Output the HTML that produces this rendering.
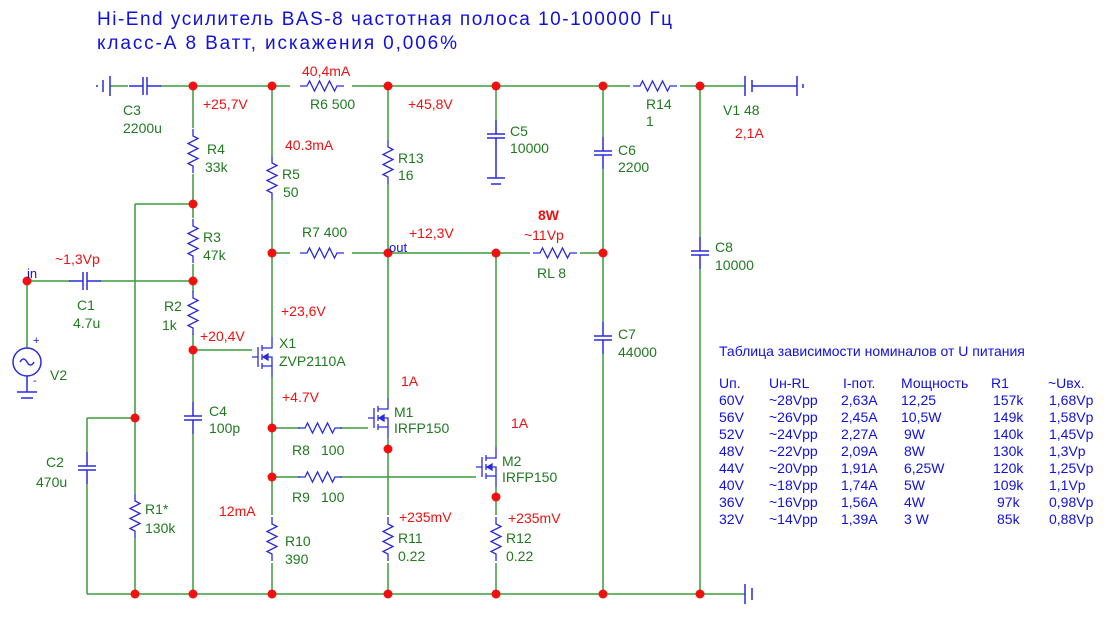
<!DOCTYPE html>
<html><head><meta charset="utf-8"><style>
html,body{margin:0;padding:0;background:#fff;}
svg{display:block;}
text{font-family:"Liberation Sans","DejaVu Sans",sans-serif;font-size:14px;}
.g{fill:#207a20}.r{fill:#f01010}.b{fill:#1010e0}
</style></head><body>
<svg width="1109" height="617" viewBox="0 0 1109 617" xmlns="http://www.w3.org/2000/svg">
<defs>
<g id="rv"><path d="M0 -22 v7 l5 2.5 l-10 5 l10 5 l-10 5 l10 5 l-10 5 l5 2.5 v7" fill="none" stroke="#2a2ae0" stroke-width="1.3"/></g>
<g id="cv" stroke="#2a2ae0" stroke-width="1.5"><path d="M0 -16 V-2 M0 2 V16 M-9 -2 H9 M-9 2 H9" fill="none"/></g>
<g id="fet" stroke="#2a2ae0" stroke-width="1.3" fill="none"><path d="M-20 0 H-14 M-14 -10 V10 M-10 -12 V-6 M-10 -3 V3 M-10 6 V12 M-10 -9 H0 V-20 M-10 9 H0 V20 M-10 0 H0 V9"/><path d="M-9 0 l5 -3 v6z" fill="#2a2ae0"/></g>
</defs>
<text x="97" y="25" class="b" style="font-size:19px" textLength="575">Hi-End усилитель BAS-8 частотная полоса 10-100000 Гц</text>
<text x="97" y="49" class="b" style="font-size:19px" textLength="360">класс-А 8 Ватт, искажения 0,006%</text>
<g stroke="#3c9a3c" stroke-width="1.5" fill="none">
<path d="M110 86 H745"/>
<path d="M87 594 H745"/>
<path d="M193 86 V594 M135 204 H193 M135 204 V594 M87 418 H135 M87 418 V594"/>
<path d="M27 281 H193 M27 281 V348"/>
<path d="M272 86 V337 M272 377 V594 M272 253 H388 M193 350 H252 M272 428 H368 M272 477 H476"/>
<path d="M388 86 V398 M388 438 V594 M388 253 H603"/>
<path d="M496 86 V120 M496 253 V447 M496 487 V594"/>
<path d="M603 86 V594 M700 86 V594"/>
</g>
<g stroke="#fff" stroke-width="4">
<path d="M193 128 V174 M193 218 V264 M193 292 V334 M193 402 V434 M135 494 V538 M87 452 V484 M272 156 V200 M272 515 V563 M388 140 V184 M388 515 V563 M496 515 V563 M603 137 V169 M603 322 V354 M700 237 V269 M496 120 V150"/>
<path d="M290 86 H352 M290 253 H352 M530 253 H580 M300 428 H340 M300 477 H340 M630 86 H680 M70 281 H100 M128 86 H160"/>
</g>
<use href="#rv" x="193" y="151"/><use href="#rv" x="193" y="241"/><use href="#rv" x="193" y="313"/>
<use href="#rv" x="135" y="516"/><use href="#rv" x="272" y="178"/><use href="#rv" x="272" y="539"/>
<use href="#rv" x="388" y="162"/><use href="#rv" x="388" y="539"/><use href="#rv" x="496" y="539"/>
<use href="#rv" transform="translate(322 86) rotate(90)"/><use href="#rv" transform="translate(322 253) rotate(90)"/>
<use href="#rv" transform="translate(555 253) rotate(90)"/><use href="#rv" transform="translate(320 428) rotate(90)"/>
<use href="#rv" transform="translate(320 477) rotate(90)"/><use href="#rv" transform="translate(655 86) rotate(90)"/>
<use href="#cv" x="193" y="418"/><use href="#cv" x="87" y="468"/><use href="#cv" x="603" y="153"/><use href="#cv" x="603" y="338"/><use href="#cv" x="700" y="253"/>
<use href="#cv" transform="translate(85 281) rotate(90)"/><use href="#cv" transform="translate(145 86) rotate(90)"/>
<g stroke="#2a2ae0" stroke-width="1.5" fill="none">
<path d="M496 120 V134 M487 134 H505 M487 138 H505 M496 138 V178 M487 178 H505 M491 184 H501"/>
<path d="M103 80 V92 M110 76 V96 M96 86 H98"/>
<path d="M745 76 V96 M752 80 V92 M752 86 H797 M797 76 V96 M803 84 V88"/>
<path d="M745 584 V604 M752 588 V600"/>
<circle cx="27" cy="362" r="14"/><path d="M20 362 q3.5 -6 7 0 t7 0"/>
<path d="M27 376 V392 M17 392 H37 M21 398 H33"/>
</g>
<text x="33" y="344" class="b" style="font-size:11px">+</text><text x="33" y="384" class="b" style="font-size:11px">-</text>
<use href="#fet" transform="translate(272 357)"/>
<use href="#fet" transform="translate(388 418)"/>
<use href="#fet" transform="translate(496 467)"/>
<g fill="#f01010">
<circle cx="193" cy="86" r="4.5"/><circle cx="272" cy="86" r="4.5"/><circle cx="388" cy="86" r="4.5"/><circle cx="496" cy="86" r="4.5"/><circle cx="603" cy="86" r="4.5"/><circle cx="700" cy="86" r="4.5"/>
<circle cx="193" cy="204" r="4.5"/><circle cx="193" cy="281" r="4.5"/><circle cx="193" cy="350" r="4.5"/><circle cx="27" cy="281" r="4.5"/>
<circle cx="272" cy="253" r="4.5"/><circle cx="388" cy="253" r="4.5"/><circle cx="496" cy="253" r="4.5"/><circle cx="603" cy="253" r="4.5"/>
<circle cx="272" cy="428" r="4.5"/><circle cx="272" cy="477" r="4.5"/><circle cx="135" cy="418" r="4.5"/>
<circle cx="388" cy="449" r="4.5"/><circle cx="496" cy="497" r="4.5"/>
<circle cx="135" cy="594" r="4.5"/><circle cx="193" cy="594" r="4.5"/><circle cx="272" cy="594" r="4.5"/><circle cx="388" cy="594" r="4.5"/><circle cx="496" cy="594" r="4.5"/><circle cx="603" cy="594" r="4.5"/><circle cx="700" cy="594" r="4.5"/>
</g>
<g class="g">
<text x="123" y="115">C3</text><text x="123" y="133">2200u</text>
<text x="207" y="154">R4</text><text x="205" y="172">33k</text>
<text x="203" y="242">R3</text><text x="203" y="260">47k</text>
<text x="164" y="311">R2</text><text x="162" y="330">1k</text>
<text x="77" y="310">C1</text><text x="73" y="328">4.7u</text>
<text x="46" y="467">C2</text><text x="36" y="487">470u</text>
<text x="145" y="514">R1*</text><text x="145" y="533">130k</text>
<text x="209" y="416">C4</text><text x="209" y="433">100p</text>
<text x="50" y="380">V2</text>
<text x="310" y="109">R6  500</text>
<text x="282" y="179">R5</text><text x="283" y="197">50</text>
<text x="302" y="237">R7  400</text>
<text x="279" y="348">X1</text><text x="279" y="366">ZVP2110A</text>
<text x="394" y="417">M1</text><text x="394" y="433">IRFP150</text>
<text x="502" y="466">M2</text><text x="502" y="482">IRFP150</text>
<text x="292" y="455">R8</text><text x="321" y="455">100</text>
<text x="292" y="502">R9</text><text x="321" y="502">100</text>
<text x="285" y="546">R10</text><text x="285" y="564">390</text>
<text x="398" y="543">R11</text><text x="398" y="561">0.22</text>
<text x="506" y="543">R12</text><text x="506" y="561">0.22</text>
<text x="398" y="163">R13</text><text x="398" y="180">16</text>
<text x="510" y="136">C5</text><text x="510" y="153">10000</text>
<text x="618" y="155">C6</text><text x="618" y="172">2200</text>
<text x="537" y="278">RL  8</text>
<text x="618" y="339">C7</text><text x="618" y="357">44000</text>
<text x="646" y="109">R14</text><text x="646" y="126">1</text>
<text x="723" y="115">V1  48</text>
<text x="715" y="252">C8</text><text x="715" y="270">10000</text>
</g>
<g class="r">
<text x="203" y="109">+25,7V</text><text x="302" y="76">40,4mA</text>
<text x="285" y="150">40.3mA</text><text x="408" y="109">+45,8V</text>
<text x="55" y="264">~1,3Vp</text><text x="200" y="341">+20,4V</text>
<text x="281" y="316">+23,6V</text><text x="282" y="402">+4.7V</text>
<text x="401" y="386">1A</text><text x="511" y="428">1A</text>
<text x="219" y="516">12mA</text>
<text x="399" y="522">+235mV</text><text x="508" y="523">+235mV</text>
<text x="409" y="238">+12,3V</text>
<text x="538" y="220" style="font-weight:bold">8W</text><text x="524" y="240">~11Vp</text>
<text x="735" y="138">2,1A</text>
</g>
<text x="27" y="278" class="b" style="font-size:13px">in</text>
<text x="389" y="252" class="b" style="font-size:13px">out</text>
<g class="b" style="font-size:13.5px">
<text x="719" y="356">Таблица зависимости номиналов от U питания</text>
<text x="719" y="388">Uп.</text><text x="769" y="388">Uн-RL</text><text x="843" y="388">I-пот.</text><text x="901" y="388">Мощность</text><text x="991" y="388">R1</text><text x="1048" y="388">~Uвх.</text>
<text x="719" y="405">60V</text><text x="769" y="405">~28Vpp</text><text x="841" y="405">2,63A</text><text x="901" y="405">12,25</text><text x="993" y="405">157k</text><text x="1049" y="405">1,68Vp</text>
<text x="719" y="422">56V</text><text x="769" y="422">~26Vpp</text><text x="841" y="422">2,45A</text><text x="901" y="422">10,5W</text><text x="993" y="422">149k</text><text x="1049" y="422">1,58Vp</text>
<text x="719" y="439">52V</text><text x="769" y="439">~24Vpp</text><text x="841" y="439">2,27A</text><text x="904" y="439">9W</text><text x="993" y="439">140k</text><text x="1049" y="439">1,45Vp</text>
<text x="719" y="456">48V</text><text x="769" y="456">~22Vpp</text><text x="841" y="456">2,09A</text><text x="904" y="456">8W</text><text x="993" y="456">130k</text><text x="1049" y="456">1,3Vp</text>
<text x="719" y="473">44V</text><text x="769" y="473">~20Vpp</text><text x="841" y="473">1,91A</text><text x="904" y="473">6,25W</text><text x="993" y="473">120k</text><text x="1049" y="473">1,25Vp</text>
<text x="719" y="490">40V</text><text x="769" y="490">~18Vpp</text><text x="841" y="490">1,74A</text><text x="904" y="490">5W</text><text x="993" y="490">109k</text><text x="1049" y="490">1,1Vp</text>
<text x="719" y="507">36V</text><text x="769" y="507">~16Vpp</text><text x="841" y="507">1,56A</text><text x="904" y="507">4W</text><text x="997" y="507">97k</text><text x="1049" y="507">0,98Vp</text>
<text x="719" y="524">32V</text><text x="769" y="524">~14Vpp</text><text x="841" y="524">1,39A</text><text x="904" y="524">3 W</text><text x="997" y="524">85k</text><text x="1049" y="524">0,88Vp</text>
</g>
</svg>
</body></html>
